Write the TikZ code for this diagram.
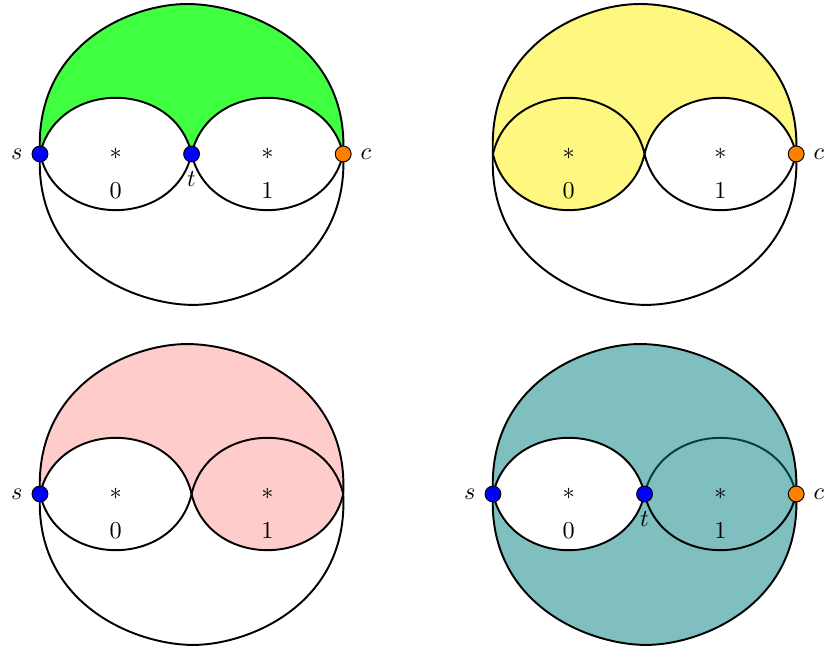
\documentclass[tikz,border=0pt]{standalone}
\usepackage{amsmath}
\usetikzlibrary{positioning}
\tikzset{
    every picture/.style={thick},
    % vertex styles
    vtx/.style={circle, draw=black, thin, minimum size=0.23cm, inner sep=0pt},
    srcvtx/.style={vtx, fill=blue},
    endvtx/.style={vtx, fill=orange},
    % region texts
    starlbl/.style={inner sep=1pt},
    idxlbl/.style={inner sep=1pt}
}

\begin{document}
\begin{tikzpicture}[
    % outer curve, top and bottom halves
    orise/.style={out=93, in=180, out looseness=1.34, in looseness=0.68},
    ofall/.style={out=0, in=87, out looseness=0.70, in looseness=1.30},
    odip/.style={out=-93, in=180, out looseness=1.31, in looseness=0.68},
    oclimb/.style={out=0, in=-87, out looseness=0.68, in looseness=1.32},
    oclimbback/.style={out=-87, in=0, out looseness=1.32, in looseness=0.68},
    odipback/.style={out=180, in=-93, out looseness=0.68, in looseness=1.31},
    % small arcs
    uparc/.style={out=77, in=103, looseness=1.30},
    uparcback/.style={out=103, in=77, looseness=1.30},
    lowarc/.style={out=-77, in=-103, looseness=1.30},
    lowarcback/.style={out=-103, in=-77, looseness=1.30}
]
    \useasboundingbox (-0.58,-7.226) rectangle (11.42,2.234);

    % Panel 1: s, t, c
    \begin{scope}
        \coordinate (s1) at (0,0);
        \coordinate (t1) at (2.2,0);
        \coordinate (c1) at (4.4,0);
        \coordinate (top1) at (2.133,2.176);
        \coordinate (bot1) at (2.22,-2.19);
        \fill[green!75] (s1) to[orise] (top1) to[ofall] (c1) to[uparcback] (t1) to[uparcback] (s1) -- cycle;
        \draw (s1) to[orise] (top1) to[ofall] (c1);
        \draw (s1) to[odip] (bot1) to[oclimb] (c1);
        \draw (s1) to[uparc] (t1) to[uparc] (c1);
        \draw (s1) to[lowarc] (t1) to[lowarc] (c1);
        \node[starlbl] (star1a) at (1.1,0) {$*$};
        \node[idxlbl] (idx1a) at (1.1,-0.53) {$0$};
        \node[starlbl] (star1b) at (3.3,0) {$*$};
        \node[idxlbl] (idx1b) at (3.3,-0.53) {$1$};
        \node[srcvtx, label=left:$s$] (sdot1) at (s1) {};
        \node[srcvtx, label=below:$t$] (tdot1) at (t1) {};
        \node[endvtx, label=right:$c$] (cdot1) at (c1) {};
    \end{scope}

    % Panel 2: c only
    \begin{scope}[shift={(6.573,0)}]
        \coordinate (s2) at (0,0);
        \coordinate (t2) at (2.2,0);
        \coordinate (c2) at (4.4,0);
        \coordinate (top2) at (2.133,2.176);
        \coordinate (bot2) at (2.22,-2.19);
        \fill[yellow!50] (s2) to[orise] (top2) to[ofall] (c2) to[uparcback] (t2) to[lowarcback] (s2) -- cycle;
        \draw (s2) to[orise] (top2) to[ofall] (c2);
        \draw (s2) to[odip] (bot2) to[oclimb] (c2);
        \draw (s2) to[uparc] (t2) to[uparc] (c2);
        \draw (s2) to[lowarc] (t2) to[lowarc] (c2);
        \node[starlbl] (star2a) at (1.1,0) {$*$};
        \node[idxlbl] (idx2a) at (1.1,-0.53) {$0$};
        \node[starlbl] (star2b) at (3.3,0) {$*$};
        \node[idxlbl] (idx2b) at (3.3,-0.53) {$1$};
        \node[endvtx, label=right:$c$] (cdot2) at (c2) {};
    \end{scope}

    % Panel 3: s only
    \begin{scope}[shift={(0,-4.934)}]
        \coordinate (s3) at (0,0);
        \coordinate (t3) at (2.2,0);
        \coordinate (c3) at (4.4,0);
        \coordinate (top3) at (2.133,2.176);
        \coordinate (bot3) at (2.22,-2.19);
        \fill[red!20] (s3) to[orise] (top3) to[ofall] (c3) to[lowarcback] (t3) to[uparcback] (s3) -- cycle;
        \draw (s3) to[orise] (top3) to[ofall] (c3);
        \draw (s3) to[odip] (bot3) to[oclimb] (c3);
        \draw (s3) to[uparc] (t3) to[uparc] (c3);
        \draw (s3) to[lowarc] (t3) to[lowarc] (c3);
        \node[starlbl] (star3a) at (1.1,0) {$*$};
        \node[idxlbl] (idx3a) at (1.1,-0.53) {$0$};
        \node[starlbl] (star3b) at (3.3,0) {$*$};
        \node[idxlbl] (idx3b) at (3.3,-0.53) {$1$};
        \node[srcvtx, label=left:$s$] (sdot3) at (s3) {};
    \end{scope}

    % Panel 4: s, t, c
    \begin{scope}[shift={(6.573,-4.934)}]
        \coordinate (s4) at (0,0);
        \coordinate (t4) at (2.2,0);
        \coordinate (c4) at (4.4,0);
        \coordinate (top4) at (2.133,2.176);
        \coordinate (bot4) at (2.22,-2.19);
        \fill[teal!50, even odd rule] (s4) to[orise] (top4) to[ofall] (c4) to[oclimbback] (bot4) to[odipback] (s4) -- cycle
            (s4) to[uparc] (t4) to[lowarcback] (s4) -- cycle;
        \draw (s4) to[orise] (top4) to[ofall] (c4);
        \draw (s4) to[odip] (bot4) to[oclimb] (c4);
        \draw (s4) to[uparc] (t4);
        \draw[teal!50!black] (t4) to[uparc] (c4);
        \draw (s4) to[lowarc] (t4) to[lowarc] (c4);
        \node[starlbl] (star4a) at (1.1,0) {$*$};
        \node[idxlbl] (idx4a) at (1.1,-0.53) {$0$};
        \node[starlbl] (star4b) at (3.3,0) {$*$};
        \node[idxlbl] (idx4b) at (3.3,-0.53) {$1$};
        \node[srcvtx, label=left:$s$] (sdot4) at (s4) {};
        \node[srcvtx, label=below:$t$] (tdot4) at (t4) {};
        \node[endvtx, label=right:$c$] (cdot4) at (c4) {};
    \end{scope}

\end{tikzpicture}
\end{document}
